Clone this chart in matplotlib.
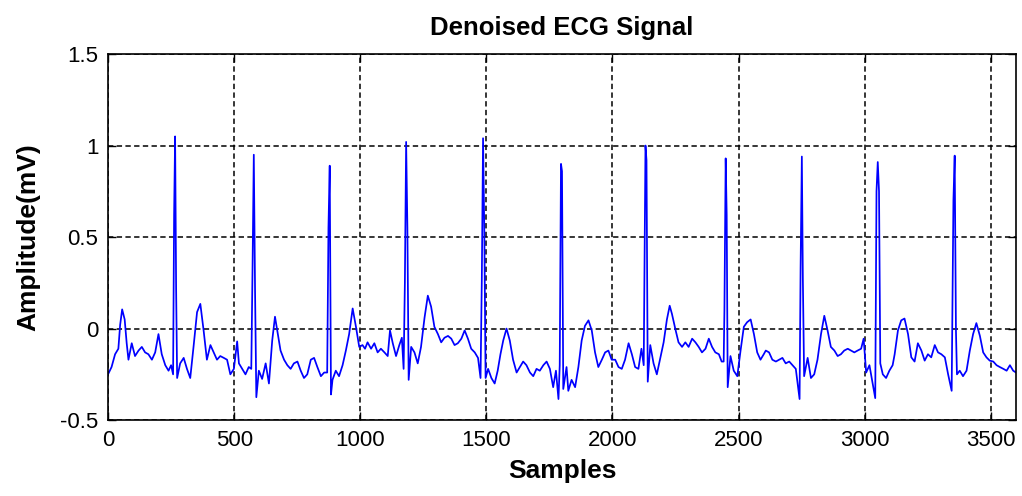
import numpy as np
import matplotlib
matplotlib.use('Agg')
import matplotlib.pyplot as plt

plt.rcParams['font.family'] = ['Liberation Sans', 'DejaVu Sans']

# baseline of the denoised trace (P and T waves, noise floor), sample -> mV
base_n = [0, 14, 28, 41, 48, 56, 66, 74, 81, 94, 107, 121, 134, 147, 160, 174, 187, 200, 213, 227, 240, 250,
          286, 300, 313, 326, 339, 353, 366, 379, 392, 406, 419, 432, 445, 459, 472, 485, 499, 512, 519, 532, 545, 558,
          598, 611, 625, 638, 651, 662, 671, 684, 698, 711, 724, 737, 751, 764, 777, 790, 804, 817, 830, 844, 857,
          890, 903, 916, 930, 943, 956, 970, 983, 996, 1009, 1019, 1029, 1043, 1056, 1069, 1082, 1096, 1109, 1118,
          1129, 1142, 1155, 1165,
          1202, 1215, 1228, 1241, 1255, 1268, 1281, 1294, 1308, 1321, 1334, 1348, 1361, 1374, 1387, 1401, 1414,
          1427, 1440, 1454, 1467,
          1507, 1520, 1533, 1545, 1556, 1567, 1580, 1593, 1606, 1620, 1633, 1646, 1659, 1673, 1686, 1699, 1712,
          1726, 1739, 1752, 1765, 1776,
          1818, 1825, 1838, 1852, 1865, 1878, 1891, 1905, 1918, 1931, 1944, 1958, 1971, 1984, 1997, 2011, 2024,
          2037, 2050, 2064, 2077, 2090, 2103, 2115,
          2150, 2163, 2176, 2190, 2203, 2216, 2227, 2236, 2249, 2262, 2276, 2289, 2302, 2316, 2329, 2342, 2355,
          2369, 2382, 2395, 2408, 2422, 2433,
          2468, 2481, 2495, 2508, 2521, 2534, 2548, 2561, 2574, 2587, 2600, 2608, 2621, 2634, 2648, 2661, 2674,
          2687, 2701, 2714, 2727,
          2774, 2787, 2800, 2813, 2827, 2840, 2853, 2866, 2880, 2893, 2906, 2919, 2933, 2946, 2959, 2972, 2986,
          2996, 3006, 3019, 3032,
          3072, 3085, 3098, 3111, 3119, 3132, 3145, 3158, 3172, 3185, 3198, 3211, 3225, 3238, 3251, 3264, 3278,
          3291, 3304, 3318, 3331,
          3377, 3390, 3404, 3417, 3430, 3443, 3457, 3470, 3483, 3496, 3510, 3523, 3536, 3550, 3563, 3576, 3589, 3600]
base_mv = [-0.25, -0.21, -0.14, -0.11, 0.02, 0.105, 0.05, -0.08, -0.17, -0.08, -0.15, -0.12, -0.10, -0.13, -0.14,
           -0.17, -0.13, -0.03, -0.14, -0.20, -0.23, -0.20,
           -0.19, -0.16, -0.22, -0.27, -0.10, 0.09, 0.135, -0.01, -0.17, -0.09, -0.13, -0.17, -0.15, -0.16, -0.17,
           -0.25, -0.22, -0.07, -0.19, -0.22, -0.25, -0.21,
           -0.23, -0.275, -0.19, -0.30, -0.065, 0.065, -0.01, -0.12, -0.17, -0.20, -0.22, -0.19, -0.18, -0.23,
           -0.27, -0.25, -0.17, -0.16, -0.21, -0.26, -0.24,
           -0.28, -0.23, -0.26, -0.20, -0.12, -0.03, 0.11, 0.01, -0.10, -0.09, -0.11, -0.075, -0.11, -0.08, -0.13,
           -0.11, -0.13, -0.15, -0.01, -0.08, -0.15, -0.09, -0.05,
           -0.10, -0.13, -0.19, -0.10, 0.06, 0.18, 0.12, 0.01, -0.03, -0.075, -0.05, -0.04, -0.055, -0.09, -0.08,
           -0.055, -0.01, -0.055, -0.11, -0.13, -0.16,
           -0.22, -0.27, -0.30, -0.23, -0.14, -0.065, 0.0, -0.065, -0.17, -0.24, -0.21, -0.18, -0.20, -0.24, -0.26,
           -0.22, -0.23, -0.20, -0.18, -0.22, -0.32, -0.23,
           -0.21, -0.34, -0.28, -0.32, -0.21, -0.065, 0.015, 0.045, -0.01, -0.13, -0.21, -0.17, -0.13, -0.12,
           -0.17, -0.17, -0.21, -0.22, -0.17, -0.08, -0.14, -0.21, -0.22, -0.11,
           -0.09, -0.19, -0.25, -0.16, -0.075, 0.05, 0.125, 0.08, 0.0, -0.075, -0.10, -0.075, -0.10, -0.055,
           -0.075, -0.10, -0.13, -0.11, -0.055, -0.10, -0.13, -0.14, -0.18,
           -0.15, -0.23, -0.26, -0.12, 0.01, 0.035, 0.05, -0.03, -0.13, -0.17, -0.14, -0.12, -0.13, -0.17, -0.18,
           -0.17, -0.16, -0.19, -0.18, -0.20, -0.22,
           -0.16, -0.27, -0.25, -0.17, -0.03, 0.07, -0.01, -0.10, -0.12, -0.15, -0.14, -0.12, -0.11, -0.12, -0.13,
           -0.12, -0.11, -0.055, -0.24, -0.20, -0.30,
           -0.25, -0.27, -0.23, -0.20, -0.14, -0.01, 0.045, 0.055, -0.03, -0.157, -0.18, -0.08, -0.12, -0.175,
           -0.14, -0.157, -0.09, -0.13, -0.14, -0.157, -0.25,
           -0.23, -0.26, -0.23, -0.12, -0.03, 0.03, -0.04, -0.13, -0.157, -0.175, -0.18, -0.20, -0.21, -0.22,
           -0.23, -0.20, -0.23, -0.24]

# QRS complexes: Q, upstroke, R peak, downstroke, S for each beat
qrs_n = [258, 262, 266, 270, 274,
         568, 573, 578, 583, 588,
         869, 874, 879, 884,
         1172, 1177, 1182, 1187, 1192,
         1477, 1482, 1487, 1492, 1497,
         1786, 1791, 1796, 1800, 1805,
         2124, 2131, 2135, 2140,
         2441, 2444, 2449, 2453, 2457,
         2742, 2746, 2751, 2755, 2760,
         3042, 3047, 3052, 3057, 3062,
         3345, 3352, 3357, 3362, 3366]
qrs_mv = [-0.25, 0.62, 1.05, 0.22, -0.27,
          -0.22, 0.33, 0.95, 0.20, -0.375,
          -0.24, 0.55, 0.89, -0.36,
          -0.22, 0.25, 1.02, 0.55, -0.28,
          -0.27, 0.26, 1.04, 0.53, -0.27,
          -0.385, -0.20, 0.90, 0.86, -0.33,
          -0.20, 1.00, 0.92, -0.29,
          -0.18, 0.10, 0.93, 0.62, -0.32,
          -0.385, 0.33, 0.94, 0.27, -0.26,
          -0.38, 0.75, 0.91, 0.75, -0.19,
          -0.34, 0.70, 0.945, -0.01, -0.25]

n = np.array(base_n + qrs_n)
mv = np.array(base_mv + qrs_mv)
order = np.argsort(n, kind='stable')
n, mv = n[order], mv[order]

fig = plt.figure(figsize=(10.22, 4.96), dpi=100)
ax = fig.add_axes([0.1057, 0.153, 0.8884, 0.738])
ax.plot(n, mv, color='#0000ff', linewidth=1.25)

ax.set_xlim(0, 3600)
ax.set_ylim(-0.5, 1.5)
ax.set_xticks(np.arange(0, 3501, 500))
ax.set_yticks([-0.5, 0, 0.5, 1, 1.5])
ax.set_yticklabels(['-0.5', '0', '0.5', '1', '1.5'])
ax.grid(True, color='black', linestyle=(0, (3.5, 2.2)), linewidth=1.1)
ax.tick_params(direction='in', length=6, width=1, top=True, right=True, labelsize=16, pad=7)
for s in ax.spines.values():
    s.set_linewidth(1.2)

ax.set_title('Denoised ECG Signal', fontsize=18.5, fontweight='bold', pad=14)
ax.set_xlabel('Samples', fontsize=19, fontweight='bold', labelpad=6)
ax.set_ylabel('Amplitude(mV)', fontsize=19, fontweight='bold', labelpad=14)

fig.savefig('out.png', dpi=100)
